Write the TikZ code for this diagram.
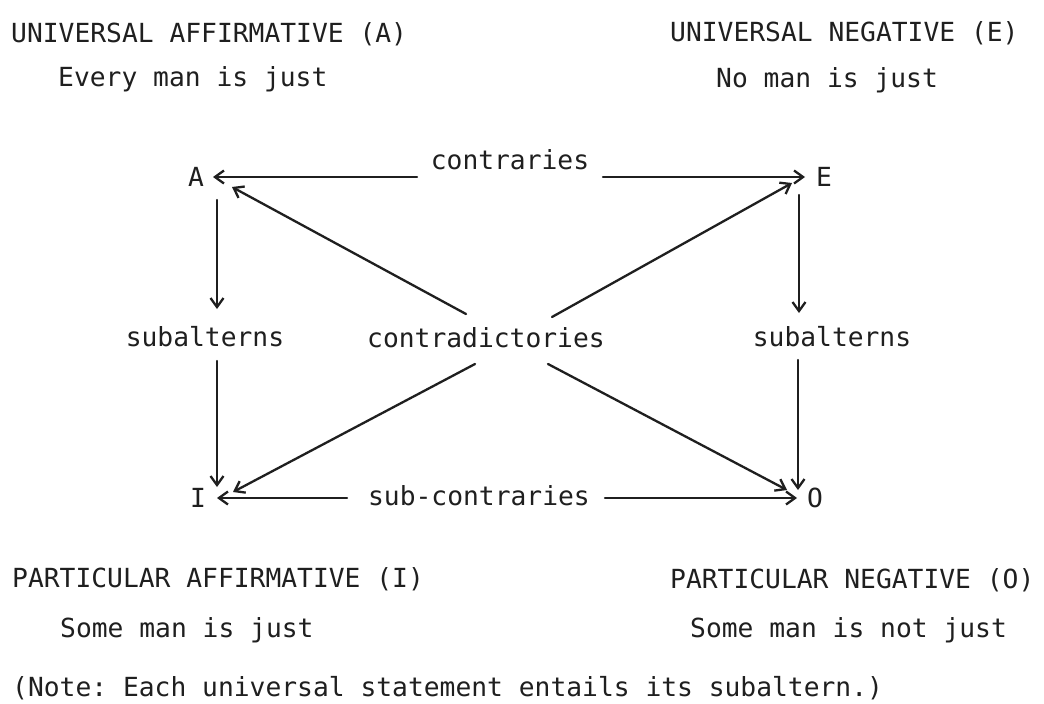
\documentclass[tikz,border=0pt]{standalone}
\usepackage{fontspec}
\setmonofont{DejaVu Sans Mono}
\usetikzlibrary{arrows.meta}
\tikzset{
  txt/.style={inner sep=0pt, font=\ttfamily\fontsize{26.3pt}{30pt}\selectfont, text=black!88},
  arr/.style={draw=black!88, line width=2.3pt, line cap=round,
    -{Straight Barb[length=9pt,width=13pt]}}
}
\begin{document}
\begin{tikzpicture}[x=1pt,y=-1pt]
\useasboundingbox[fill=white] (0,0) rectangle (1044,704);

% headings and sentences
\node[txt, anchor=base west] (ua)  at (11,42)  {UNIVERSAL AFFIRMATIVE (A)};
\node[txt, anchor=base west] (uae) at (58,86)  {Every man is just};
\node[txt, anchor=base west] (un)  at (670,41) {UNIVERSAL NEGATIVE (E)};
\node[txt, anchor=base west] (une) at (716,87) {No man is just};
\node[txt, anchor=base west] (pa)  at (12,587) {PARTICULAR AFFIRMATIVE (I)};
\node[txt, anchor=base west] (pae) at (60,637) {Some man is just};
\node[txt, anchor=base west] (pn)  at (670,588) {PARTICULAR NEGATIVE (O)};
\node[txt, anchor=base west] (pne) at (690,637) {Some man is not just};
\node[txt, anchor=base west] (note) at (12,696) {(Note: Each universal statement entails its subaltern.)};

% corner letters
\node[txt, anchor=base] (A) at (196,186) {A};
\node[txt, anchor=base] (E) at (824,186) {E};
\node[txt, anchor=base] (I) at (198,507) {I};
\node[txt, anchor=base] (O) at (815,507) {O};

% relation labels
\node[txt, anchor=base] (contr) at (510,169) {contraries};
\node[txt, anchor=base] (subL)  at (205,346) {subalterns};
\node[txt, anchor=base] (subR)  at (832,346) {subalterns};
\node[txt, anchor=base] (cd)    at (486,347) {contradictories};
\node[txt, anchor=base] (sc)    at (479,505) {sub-contraries};

% connector end points
\coordinate (contr-w) at (417,177);
\coordinate (contr-e) at (603,177);
\coordinate (A-e) at (213,177);
\coordinate (E-w) at (805,177);
\coordinate (A-s) at (217,200);
\coordinate (subL-n) at (217,309);
\coordinate (subL-s) at (217,361);
\coordinate (I-n) at (217,487);
\coordinate (E-s) at (799,195);
\coordinate (subR-n) at (799,313);
\coordinate (subR-s) at (798,360);
\coordinate (O-n) at (798,490);
\coordinate (cd-nw) at (466,314);
\coordinate (A-se) at (232,187);
\coordinate (cd-ne) at (552,317);
\coordinate (E-sw) at (792,183);
\coordinate (cd-sw) at (475,364);
\coordinate (I-ne) at (233,492);
\coordinate (cd-se) at (548,364);
\coordinate (O-nw) at (787,490);
\coordinate (sc-w) at (347,498);
\coordinate (I-e) at (217,498);
\coordinate (sc-e) at (605,498);
\coordinate (O-w) at (797,498);

% connectors
\draw[arr] (contr-w) -- (A-e);
\draw[arr] (contr-e) -- (E-w);
\draw[arr] (A-s) -- (subL-n);
\draw[arr] (subL-s) -- (I-n);
\draw[arr] (E-s) -- (subR-n);
\draw[arr] (subR-s) -- (O-n);
\draw[arr] (cd-nw) -- (A-se);
\draw[arr] (cd-ne) -- (E-sw);
\draw[arr] (cd-sw) -- (I-ne);
\draw[arr] (cd-se) -- (O-nw);
\draw[arr] (sc-w) -- (I-e);
\draw[arr] (sc-e) -- (O-w);
\end{tikzpicture}
\end{document}
